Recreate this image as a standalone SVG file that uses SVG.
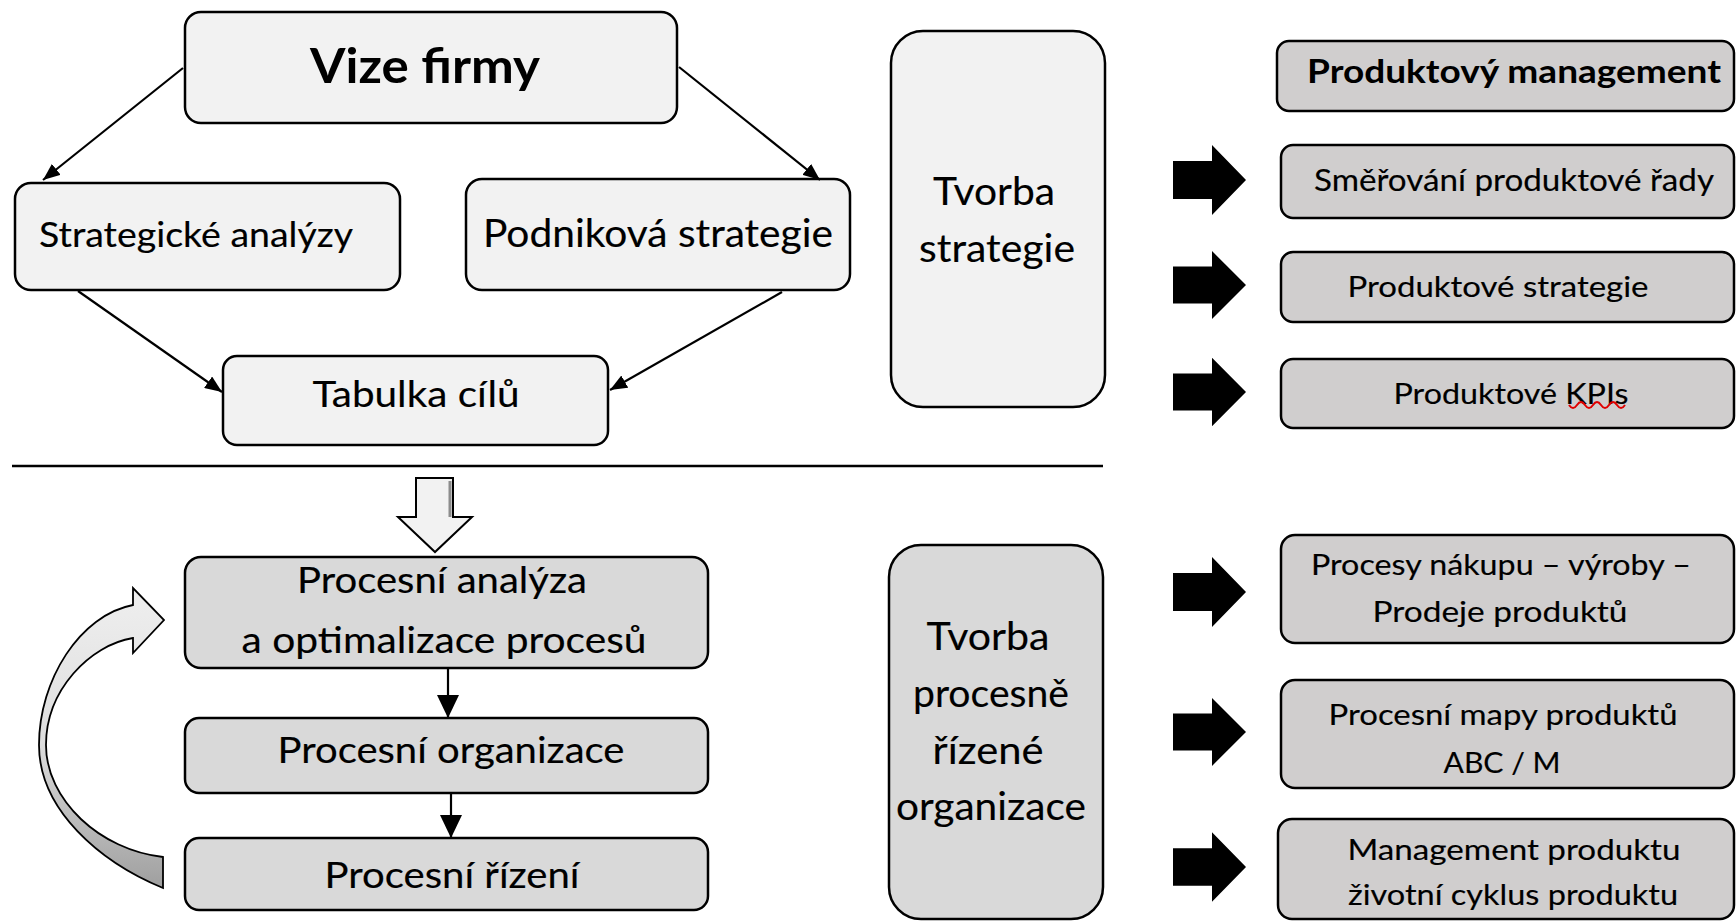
<svg xmlns="http://www.w3.org/2000/svg" width="1736" height="921" viewBox="0 0 1736 921">
  <style>
    .box { stroke: #000; stroke-width: 2.5; }
    .light { fill: #f2f2f2; }
    .mid { fill: #d9d9d9; }
    .prod { fill: #d0cece; }
    .t { font-family: Lato, "Open Sans", "Liberation Sans", sans-serif; fill: #000; text-anchor: middle; stroke: #000; stroke-width: 0.15; }
    .b { font-weight: bold; stroke-width: 0; }
    .edge { stroke: #000; stroke-width: 2.2; fill: none; }
    .blk { fill: #000; }
  </style>
  <defs>
    <marker id="tip" markerUnits="userSpaceOnUse" markerWidth="18" markerHeight="14" refX="17" refY="7" orient="auto">
      <path d="M0,0 L17,7 L0,14 Z" fill="#000"/>
    </marker>
    <marker id="tipV" markerUnits="userSpaceOnUse" markerWidth="24" markerHeight="24" refX="23" refY="11" orient="auto">
      <path d="M0,0 L23,11 L0,22 Z" fill="#000"/>
    </marker>
    <path id="fat" d="M0,-19 L39,-19 L39,-35 L73,0 L39,35 L39,19 L0,19 Z"/>
    <linearGradient id="bend" gradientUnits="userSpaceOnUse" x1="0" y1="588" x2="0" y2="890">
      <stop offset="0" stop-color="#efefef"/>
      <stop offset="0.5" stop-color="#dedede"/>
      <stop offset="1" stop-color="#9e9e9e"/>
    </linearGradient>
  </defs>

  <!-- strategy part -->
  <g id="vize">
    <rect class="box light" x="185" y="12" width="492" height="111" rx="16"/>
    <text class="t b" x="425" y="83" font-size="48" textLength="230" lengthAdjust="spacingAndGlyphs">Vize firmy</text>
  </g>
  <g id="strategicke-analyzy">
    <rect class="box light" x="15" y="183" width="385" height="107" rx="16"/>
    <text class="t" x="196" y="247" font-size="34" textLength="314" lengthAdjust="spacingAndGlyphs">Strategické analýzy</text>
  </g>
  <g id="podnikova-strategie">
    <rect class="box light" x="466" y="179" width="384" height="111" rx="16"/>
    <text class="t" x="658" y="247" font-size="38" textLength="350" lengthAdjust="spacingAndGlyphs">Podniková strategie</text>
  </g>
  <g id="tabulka-cilu">
    <rect class="box light" x="223" y="356" width="385" height="89" rx="14"/>
    <text class="t" x="416" y="407" font-size="37" textLength="207" lengthAdjust="spacingAndGlyphs">Tabulka cílů</text>
  </g>
  <g id="tvorba-strategie">
    <rect class="box light" x="891" y="31" width="214" height="376" rx="32"/>
    <text class="t" x="994" y="205" font-size="39" textLength="122" lengthAdjust="spacingAndGlyphs">Tvorba</text>
    <text class="t" x="997" y="262" font-size="39" textLength="156" lengthAdjust="spacingAndGlyphs">strategie</text>
  </g>

  <!-- product management column -->
  <g id="produktovy-management">
    <rect class="box prod" x="1277" y="41" width="457" height="70" rx="12"/>
    <text class="t b" x="1514" y="83" font-size="32" textLength="414" lengthAdjust="spacingAndGlyphs">Produktový management</text>
  </g>
  <g id="smerovani">
    <rect class="box prod" x="1281" y="145" width="453" height="73" rx="12"/>
    <text class="t" x="1514" y="191" font-size="30" textLength="400" lengthAdjust="spacingAndGlyphs">Směřování produktové řady</text>
  </g>
  <g id="produktove-strategie">
    <rect class="box prod" x="1281" y="252" width="453" height="70" rx="12"/>
    <text class="t" x="1498" y="297" font-size="29" textLength="301" lengthAdjust="spacingAndGlyphs">Produktové strategie</text>
  </g>
  <g id="produktove-kpis">
    <rect class="box prod" x="1281" y="359" width="453" height="69" rx="12"/>
    <text class="t" x="1511" y="404" font-size="29" textLength="235" lengthAdjust="spacingAndGlyphs">Produktové KPIs</text>
    <path d="M1569,405 Q1573,411 1577,405 T1585,405 T1593,405 T1601,405 T1609,405 T1617,405 T1625,405" fill="none" stroke="#e00000" stroke-width="2"/>
  </g>

  <!-- divider -->
  <line x1="12" y1="466" x2="1103" y2="466" stroke="#000" stroke-width="2.5"/>

  <!-- process part -->
  <g id="procesni-analyza">
    <rect class="box mid" x="185" y="557" width="523" height="111" rx="16"/>
    <text class="t" x="442" y="593" font-size="36" textLength="290" lengthAdjust="spacingAndGlyphs">Procesní analýza</text>
    <text class="t" x="444" y="653" font-size="36" textLength="405" lengthAdjust="spacingAndGlyphs">a optimalizace procesů</text>
  </g>
  <g id="procesni-organizace">
    <rect class="box mid" x="185" y="718" width="523" height="75" rx="14"/>
    <text class="t" x="451" y="763" font-size="36" textLength="347" lengthAdjust="spacingAndGlyphs">Procesní organizace</text>
  </g>
  <g id="procesni-rizeni">
    <rect class="box mid" x="185" y="838" width="523" height="72" rx="14"/>
    <text class="t" x="452" y="888" font-size="36" textLength="255" lengthAdjust="spacingAndGlyphs">Procesní řízení</text>
  </g>
  <g id="tvorba-procesne">
    <rect class="box mid" x="889" y="545" width="214" height="374" rx="32"/>
    <text class="t" x="988" y="650" font-size="39" textLength="123" lengthAdjust="spacingAndGlyphs">Tvorba</text>
    <text class="t" x="991" y="707" font-size="39" textLength="156" lengthAdjust="spacingAndGlyphs">procesně</text>
    <text class="t" x="988" y="764" font-size="39" textLength="111" lengthAdjust="spacingAndGlyphs">řízené</text>
    <text class="t" x="991" y="820" font-size="39" textLength="190" lengthAdjust="spacingAndGlyphs">organizace</text>
  </g>

  <g id="procesy-nakupu">
    <rect class="box prod" x="1281" y="535" width="453" height="108" rx="14"/>
    <text class="t" x="1501" y="575" font-size="28" textLength="380" lengthAdjust="spacingAndGlyphs">Procesy nákupu – výroby –</text>
    <text class="t" x="1500" y="622" font-size="28" textLength="255" lengthAdjust="spacingAndGlyphs">Prodeje produktů</text>
  </g>
  <g id="procesni-mapy">
    <rect class="box prod" x="1281" y="680" width="453" height="108" rx="14"/>
    <text class="t" x="1503" y="725" font-size="28" textLength="349" lengthAdjust="spacingAndGlyphs">Procesní mapy produktů</text>
    <text class="t" x="1502" y="773" font-size="28" textLength="117" lengthAdjust="spacingAndGlyphs">ABC / M</text>
  </g>
  <g id="management-produktu">
    <rect class="box prod" x="1278" y="819" width="456" height="100" rx="14"/>
    <text class="t" x="1514" y="860" font-size="28" textLength="333" lengthAdjust="spacingAndGlyphs">Management produktu</text>
    <text class="t" x="1513" y="905" font-size="28" textLength="330" lengthAdjust="spacingAndGlyphs">životní cyklus produktu</text>
  </g>

  <!-- connectors -->
  <g id="connectors">
    <line class="edge" x1="183" y1="68" x2="43" y2="180" marker-end="url(#tip)"/>
    <line class="edge" x1="679" y1="67" x2="820" y2="180" marker-end="url(#tip)"/>
    <line class="edge" x1="78" y1="291" x2="222" y2="392" marker-end="url(#tip)"/>
    <line class="edge" x1="782" y1="292" x2="610" y2="390" marker-end="url(#tip)"/>

    <line class="edge" x1="448" y1="669" x2="448" y2="718" marker-end="url(#tipV)"/>
    <line class="edge" x1="451" y1="794" x2="451" y2="838" marker-end="url(#tipV)"/>

    <!-- hollow block arrow into the process part -->
    <path d="M416,478 L453,478 L453,517 L472,517 L435,552 L398,517 L416,517 Z" fill="#f2f2f2" stroke="#000" stroke-width="2"/>
    <line x1="450" y1="481" x2="450" y2="517" stroke="#8c8c8c" stroke-width="3"/>

    <!-- feedback loop arrow -->
    <path d="M163,888 C100,862 39,810 39,745 C39,680 80,615 133,605 L133,588 L164,620 L133,653 L133,638 C90,645 46,690 46,745 C46,800 100,850 163,857 Z" fill="url(#bend)" stroke="#000" stroke-width="1.8" stroke-linejoin="miter"/>

    <!-- block arrows towards the product column -->
    <use href="#fat" class="blk" transform="translate(1173,180)"/>
    <use href="#fat" class="blk" transform="translate(1173,285) scale(1,0.97)"/>
    <use href="#fat" class="blk" transform="translate(1173,392) scale(1,0.98)"/>
    <use href="#fat" class="blk" transform="translate(1173,592)"/>
    <use href="#fat" class="blk" transform="translate(1173,732) scale(1,0.97)"/>
    <use href="#fat" class="blk" transform="translate(1173,867) scale(1,0.99)"/>
  </g>
</svg>
